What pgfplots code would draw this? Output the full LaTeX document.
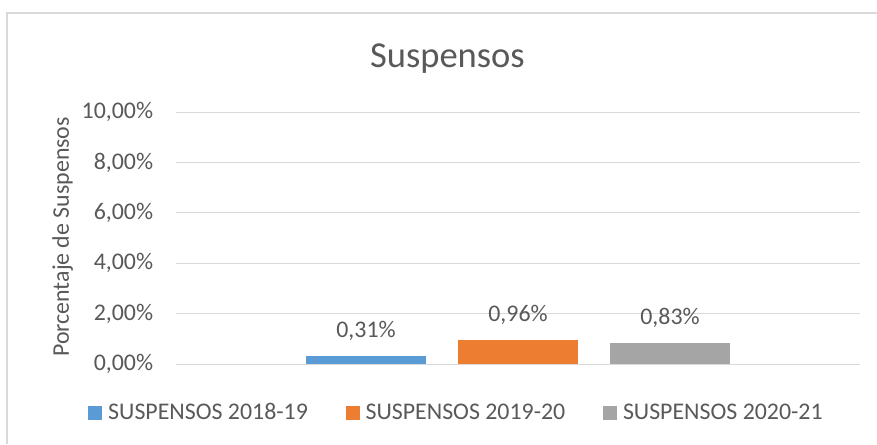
\documentclass[border=0pt]{standalone}
\usepackage{pgfplots}
\pgfplotsset{compat=1.18}
\usepackage{fontspec}
\setmainfont{Carlito}
\definecolor{txt}{HTML}{595959}
\definecolor{grd}{HTML}{D9D9D9}
\definecolor{cA}{HTML}{5B9BD5}
\definecolor{cB}{HTML}{ED7D31}
\definecolor{cC}{HTML}{A5A5A5}
\newcommand\lab{\fontsize{17.9pt}{20pt}\selectfont}
\begin{document}
\begin{tikzpicture}
\useasboundingbox (0,0) rectangle (657.75pt,333pt);
\fill[white] (0,0) rectangle (657.75pt,333pt);
\draw[grd, line width=1pt] (5.25pt,0pt) -- (5.25pt,323.25pt) -- (657.75pt,323.25pt);
\node[anchor=base, text=txt, inner sep=0pt, font=\fontsize{27.4pt}{30pt}\selectfont] at (335.6pt,282.75pt) {Suspensos};
\node[rotate=90, anchor=center, text=txt, inner sep=0pt, font=\lab] at (47pt,155.25pt) {Porcentaje de Suspensos};
\begin{axis}[
  at={(132pt,60pt)}, anchor=south west,
  scale only axis, width=513pt, height=189pt,
  xmin=-1, xmax=1, ymin=0, ymax=10,
  xtick=\empty,
  ytick={0,2,4,6,8,10},
  yticklabels={{0,00\%},{2,00\%},{4,00\%},{6,00\%},{8,00\%},{10,00\%}},
  major tick length=0pt,
  yticklabel style={inner sep=0pt, xshift=-17pt, text=txt, font=\lab},
  axis line style={draw=none},
  ymajorgrids, grid style={grd, line width=0.75pt},
  ybar=24pt, bar width=90pt,
  every axis plot/.append style={draw=none},
  nodes near coords={\pgfmathprintnumber[fixed,fixed zerofill,precision=2,use comma]{\pgfplotspointmeta}\%},
  nodes near coords style={anchor=base, yshift=14pt, inner sep=0pt, text=txt, font=\lab, /pgf/number format/assume math mode=true},
  legend columns=3,
  legend image code/.code={\fill[#1] (0pt,0pt) rectangle (10.5pt,10pt);},
  legend style={at={(axis description cs:-0.1287,-0.2302)}, anchor=south west,
    draw=none, fill=none, inner sep=0pt,
    cells={anchor=base west},
    nodes={inner sep=0pt, text=txt, font=\lab},
    /tikz/every odd column/.style={column sep=4.5pt},
    /tikz/every even column/.style={column sep=28.3pt}},
]
\addplot[fill=cA] coordinates {(0,0.31)};
\addplot[fill=cB] coordinates {(0,0.96)};
\addplot[fill=cC] coordinates {(0,0.83)};
\legend{SUSPENSOS 2018-19, SUSPENSOS 2019-20, SUSPENSOS 2020-21}
\end{axis}
\end{tikzpicture}
\end{document}
